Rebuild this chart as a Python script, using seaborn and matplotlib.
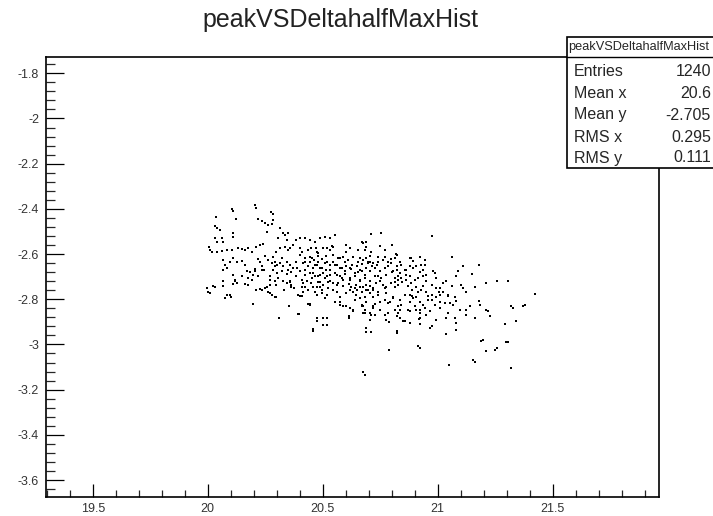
import matplotlib
matplotlib.use('Agg')
import matplotlib.pyplot as plt
from matplotlib.patches import Rectangle
from matplotlib.lines import Line2D
from matplotlib.ticker import MultipleLocator, FuncFormatter
import seaborn as sns
import pandas as pd

# puntos (peak, DeltahalfMax), agrupados por zona
upper_left = [
    (20.205, -2.383), (20.212, -2.396), (20.107, -2.400), (20.108, -2.409), (20.277, -2.415),
    (20.283, -2.424), (20.036, -2.434), (20.122, -2.444), (20.219, -2.444), (20.234, -2.453),
    (20.248, -2.463), (20.263, -2.471), (20.278, -2.468), (20.285, -2.449), (20.031, -2.478),
    (20.039, -2.485), (20.053, -2.493), (20.256, -2.503), (20.111, -2.508), (20.108, -2.523),
    (20.314, -2.486), (20.328, -2.508), (20.335, -2.515), (20.350, -2.508), (20.031, -2.530),
    (20.039, -2.545), (20.060, -2.530), (20.067, -2.545), (20.007, -2.567), (20.010, -2.581),
    (20.017, -2.592), (20.039, -2.589), (20.060, -2.586), (20.082, -2.581), (20.104, -2.581),
    (20.132, -2.574), (20.147, -2.577), (20.162, -2.581), (20.176, -2.574), (20.191, -2.589),
    (20.212, -2.567), (20.227, -2.559), (20.241, -2.556), (20.314, -2.574), (20.335, -2.567),
    (20.350, -2.581), (20.357, -2.571), (20.371, -2.559), (20.385, -2.537), (20.401, -2.530),
    (20.422, -2.528), (20.444, -2.537), (20.466, -2.545), (20.487, -2.530), (20.509, -2.523),
    (20.531, -2.530), (20.553, -2.515), (20.517, -2.574), (20.531, -2.581), (20.545, -2.567),
    (20.603, -2.559), (20.618, -2.574), (20.675, -2.552), (20.690, -2.567), (20.306, -2.530),
    (20.343, -2.537), (20.408, -2.589), (20.437, -2.581), (20.451, -2.574),
]

lower_left = [
    (20.067, -2.626), (20.075, -2.648), (20.067, -2.670), (20.082, -2.663), (20.096, -2.633),
    (20.111, -2.619), (20.126, -2.633), (20.147, -2.630), (20.162, -2.648), (20.169, -2.677),
    (20.183, -2.680), (20.205, -2.674), (20.227, -2.633), (20.234, -2.670), (20.111, -2.692),
    (20.118, -2.714), (20.126, -2.729), (20.111, -2.733), (20.147, -2.699), (20.176, -2.706),
    (20.198, -2.692), (19.995, -2.751), (20.002, -2.766), (20.010, -2.773), (20.024, -2.740),
    (20.031, -2.744), (20.067, -2.721), (20.067, -2.740), (20.118, -2.721), (20.126, -2.726),
    (20.162, -2.732), (20.176, -2.735), (20.191, -2.714), (20.075, -2.795), (20.099, -2.780),
    (20.101, -2.788), (20.198, -2.821), (20.212, -2.758), (20.227, -2.755), (20.234, -2.758),
    (20.248, -2.751), (20.256, -2.744), (20.263, -2.766), (20.270, -2.773), (20.280, -2.780),
    (20.292, -2.788), (20.299, -2.788), (20.270, -2.736), (20.357, -2.721), (20.364, -2.736),
    (20.353, -2.832), (20.309, -2.883), (20.393, -2.780), (20.408, -2.785), (20.391, -2.867),
    (20.396, -2.867), (20.415, -2.766), (20.422, -2.744), (20.415, -2.729), (20.437, -2.821),
    (20.444, -2.821), (20.458, -2.935), (20.082, -2.780), (20.285, -2.611), (20.292, -2.655),
    (20.343, -2.729), (20.299, -2.736), (20.364, -2.744), (20.270, -2.714), (20.219, -2.621),
    (20.236, -2.652), (20.248, -2.607), (20.205, -2.665),
]

core_left = [
    (20.278, -2.640), (20.292, -2.633), (20.302, -2.648), (20.314, -2.638), (20.328, -2.652),
    (20.345, -2.633), (20.357, -2.648), (20.371, -2.660), (20.285, -2.670), (20.302, -2.684),
    (20.321, -2.677), (20.343, -2.689), (20.364, -2.680), (20.383, -2.699), (20.306, -2.706),
    (20.328, -2.718), (20.357, -2.724), (20.270, -2.696), (20.292, -2.721), (20.401, -2.604),
    (20.422, -2.618), (20.444, -2.611), (20.461, -2.626), (20.480, -2.607), (20.499, -2.621),
    (20.517, -2.633), (20.415, -2.640), (20.437, -2.651), (20.456, -2.662), (20.476, -2.648),
    (20.495, -2.660), (20.513, -2.670), (20.531, -2.648), (20.401, -2.674), (20.422, -2.692),
    (20.444, -2.684), (20.466, -2.699), (20.487, -2.692), (20.509, -2.706), (20.531, -2.692),
    (20.430, -2.718), (20.451, -2.729), (20.480, -2.724), (20.502, -2.736), (20.408, -2.744),
    (20.437, -2.758), (20.466, -2.766), (20.495, -2.758), (20.524, -2.751), (20.444, -2.633),
    (20.466, -2.648), (20.487, -2.662), (20.509, -2.640), (20.458, -2.684), (20.480, -2.699),
    (20.502, -2.684), (20.531, -2.670), (20.458, -2.744), (20.473, -2.744), (20.487, -2.744),
    (20.531, -2.721), (20.473, -2.780), (20.495, -2.773), (20.517, -2.780), (20.502, -2.574),
    (20.473, -2.593), (20.480, -2.596),
]

core_mid = [
    (20.545, -2.604), (20.567, -2.618), (20.589, -2.611), (20.610, -2.626), (20.632, -2.615),
    (20.654, -2.633), (20.697, -2.640), (20.560, -2.648), (20.582, -2.660), (20.603, -2.651),
    (20.625, -2.665), (20.647, -2.655), (20.669, -2.674), (20.690, -2.662), (20.553, -2.684),
    (20.574, -2.699), (20.596, -2.689), (20.618, -2.706), (20.640, -2.695), (20.661, -2.714),
    (20.683, -2.704), (20.705, -2.718), (20.567, -2.729), (20.589, -2.740), (20.615, -2.733),
    (20.640, -2.751), (20.664, -2.744), (20.687, -2.758), (20.560, -2.766), (20.603, -2.773),
    (20.683, -2.788), (20.553, -2.648), (20.574, -2.662), (20.560, -2.692), (20.582, -2.706),
    (20.596, -2.677), (20.618, -2.662), (20.640, -2.684), (20.661, -2.670), (20.683, -2.692),
    (20.705, -2.677), (20.727, -2.662), (20.748, -2.677), (20.770, -2.662), (20.777, -2.692),
    (20.755, -2.706), (20.625, -2.744), (20.647, -2.758), (20.675, -2.744), (20.697, -2.758),
    (20.719, -2.751), (20.545, -2.729), (20.560, -2.736), (20.618, -2.714), (20.646, -2.736),
    (20.661, -2.721), (20.574, -2.788), (20.632, -2.766), (20.646, -2.780), (20.661, -2.795),
    (20.669, -2.545), (20.683, -2.581), (20.712, -2.593), (20.661, -2.618), (20.676, -2.626),
    (20.690, -2.618), (20.705, -2.633), (20.697, -2.633), (20.719, -2.640), (20.734, -2.648),
    (20.712, -2.512), (20.755, -2.505), (20.690, -2.545),
]

core_right = [
    (20.748, -2.566), (20.800, -2.562), (20.821, -2.604), (20.813, -2.618), (20.878, -2.618),
    (20.922, -2.611), (20.944, -2.626), (20.741, -2.615), (20.762, -2.626), (20.770, -2.611),
    (20.784, -2.633), (20.799, -2.622), (20.893, -2.662), (20.907, -2.655), (20.929, -2.648),
    (20.936, -2.670), (20.727, -2.699), (20.741, -2.699), (20.806, -2.677), (20.821, -2.670),
    (20.835, -2.684), (20.842, -2.706), (20.828, -2.714), (20.813, -2.706), (20.864, -2.692),
    (20.878, -2.699), (20.914, -2.706), (20.936, -2.699), (20.951, -2.692), (20.733, -2.729),
    (20.748, -2.721), (20.762, -2.736), (20.777, -2.744), (20.799, -2.729), (20.813, -2.744),
    (20.828, -2.736), (20.705, -2.773), (20.719, -2.788), (20.741, -2.780), (20.792, -2.810),
    (20.806, -2.795), (20.835, -2.802), (20.878, -2.780), (20.893, -2.795), (20.907, -2.788),
    (20.922, -2.810), (20.936, -2.824), (20.958, -2.802), (20.632, -2.846), (20.675, -2.832),
    (20.719, -2.839), (20.835, -2.846), (20.878, -2.853), (20.907, -2.846), (20.799, -2.640),
    (20.821, -2.655), (20.842, -2.648), (20.864, -2.670), (20.864, -2.714), (20.886, -2.729),
    (20.907, -2.744), (20.929, -2.758), (20.951, -2.766), (20.973, -2.780), (20.994, -2.788),
    (20.951, -2.721), (20.973, -2.736), (20.994, -2.751), (20.690, -2.736), (20.719, -2.758),
    (20.777, -2.773), (20.806, -2.788), (20.857, -2.780), (20.878, -2.810), (20.900, -2.832),
    (20.922, -2.846), (20.944, -2.839), (20.966, -2.854), (20.690, -2.810), (20.719, -2.832),
    (20.748, -2.846), (20.784, -2.861), (20.821, -2.876), (20.849, -2.895), (20.878, -2.905),
    (20.705, -2.861), (20.683, -2.846), (20.818, -2.600), (20.886, -2.618), (20.893, -2.630),
    (20.944, -2.648),
]

core_extra = [
    (20.422, -2.634), (20.453, -2.617), (20.388, -2.661), (20.409, -2.714), (20.479, -2.634),
    (20.513, -2.608), (20.544, -2.634), (20.574, -2.617), (20.522, -2.723), (20.596, -2.634),
    (20.626, -2.648), (20.653, -2.679), (20.670, -2.643), (20.713, -2.652), (20.739, -2.634),
    (20.783, -2.652), (20.800, -2.679), (20.826, -2.696), (20.844, -2.723), (20.870, -2.740),
    (20.887, -2.758), (20.913, -2.767), (20.935, -2.740), (20.957, -2.784), (20.900, -2.714),
    (20.857, -2.670), (20.813, -2.723), (20.770, -2.749), (20.739, -2.767), (20.705, -2.740),
    (20.670, -2.767), (20.618, -2.758), (20.587, -2.714), (20.544, -2.758), (20.518, -2.696),
    (20.487, -2.723), (20.453, -2.705), (20.422, -2.670), (20.383, -2.634), (20.348, -2.670),
    (20.322, -2.617), (20.296, -2.590), (20.261, -2.626), (20.244, -2.670), (20.218, -2.696),
    (20.331, -2.758), (20.374, -2.749), (20.401, -2.784), (20.509, -2.793), (20.574, -2.811),
    (20.639, -2.802), (20.670, -2.829), (20.726, -2.820), (20.770, -2.802), (20.826, -2.829),
    (20.887, -2.784), (20.974, -2.802), (21.009, -2.749), (21.043, -2.784), (21.061, -2.740),
    (20.653, -2.581), (20.705, -2.608), (20.770, -2.581), (20.835, -2.634), (20.878, -2.652),
    (20.922, -2.679), (20.540, -2.564), (20.600, -2.590), (20.470, -2.573), (20.401, -2.573),
]

lower_mid = [
    (20.553, -2.810), (20.574, -2.824), (20.589, -2.832), (20.603, -2.832), (20.618, -2.839),
    (20.632, -2.854), (20.669, -2.824), (20.683, -2.861), (20.712, -2.868), (20.727, -2.868),
    (20.705, -2.890), (20.748, -2.810), (20.784, -2.817), (20.813, -2.846), (20.828, -2.861),
    (20.842, -2.824), (20.871, -2.846), (20.936, -2.824), (20.770, -2.868), (20.777, -2.890),
    (20.788, -2.902), (20.835, -2.883), (20.857, -2.894), (20.922, -2.861), (20.922, -2.883),
    (20.473, -2.883), (20.476, -2.898), (20.502, -2.883), (20.517, -2.883), (20.502, -2.913),
    (20.517, -2.913), (20.458, -2.932), (20.458, -2.942), (20.615, -2.876), (20.615, -2.883),
    (20.824, -2.949), (20.444, -2.824), (20.675, -2.861), (20.690, -2.926),
]

right_tail = [
    (20.973, -2.519), (21.064, -2.615), (20.980, -2.674), (20.987, -2.684), (21.110, -2.655),
    (21.088, -2.674), (21.081, -2.695), (21.147, -2.689), (21.180, -2.648), (21.035, -2.718),
    (21.103, -2.736), (21.110, -2.751), (21.125, -2.770), (21.161, -2.744), (21.212, -2.729),
    (21.258, -2.718), (21.305, -2.718), (21.422, -2.777), (21.320, -2.832), (21.327, -2.839),
    (21.371, -2.832), (21.378, -2.824), (21.006, -2.766), (21.023, -2.766), (21.009, -2.780),
    (21.081, -2.807), (21.066, -2.824), (21.053, -2.817), (21.178, -2.807), (21.182, -2.824),
    (21.139, -2.832), (21.125, -2.846), (21.122, -2.868), (21.212, -2.846), (21.219, -2.854),
    (21.226, -2.876), (21.161, -2.883), (21.291, -2.909), (21.342, -2.895), (21.074, -2.883),
    (21.081, -2.905), (21.078, -2.935), (20.973, -2.919), (20.965, -2.926), (21.038, -2.955),
    (20.919, -2.886), (20.922, -2.910), (21.009, -2.839), (21.031, -2.817), (21.045, -2.861),
    (20.994, -2.706), (21.023, -2.729), (21.045, -2.780), (21.074, -2.788), (21.009, -2.810),
    (20.987, -2.824), (21.096, -2.846), (21.038, -2.883), (20.994, -2.890), (20.951, -2.868),
]

bottom_outliers = [
    (20.821, -2.942), (20.690, -2.945), (20.712, -2.945), (21.190, -2.986), (21.197, -2.979),
    (21.298, -2.990), (21.305, -2.990), (21.212, -3.027), (21.248, -3.023), (21.256, -3.015),
    (20.914, -3.008), (20.922, -3.015), (20.788, -3.026), (21.154, -3.067), (21.161, -3.077),
    (21.050, -3.092), (21.320, -3.104), (20.675, -3.123), (20.683, -3.133),
]

hist_name = 'peakVSDeltahalfMaxHist'
stats_labels = ['Entries', 'Mean x', 'Mean y', 'RMS x', 'RMS y']
stats_values = ['1240', '20.6', '-2.705', '0.295', '0.111']

x_ticks = [19.5, 20.0, 20.5, 21.0, 21.5]
y_ticks = [-3.6, -3.4, -3.2, -3.0, -2.8, -2.6, -2.4, -2.2, -2.0, -1.8]

points = (upper_left + lower_left + core_left + core_mid + core_right + core_extra
          + lower_mid + right_tail + bottom_outliers)
df = pd.DataFrame(points, columns=['peak', 'deltaHalfMax'])

sns.set_style('white')
plt.rcParams['font.family'] = ['Liberation Sans', 'DejaVu Sans']

W, H = 713, 516
fig = plt.figure(figsize=(W / 100, H / 100), dpi=100)
ax = fig.add_axes([46 / W, 1 - 497 / H, (659 - 46) / W, (497 - 57) / H])

sns.scatterplot(data=df, x='peak', y='deltaHalfMax', marker='s', s=3.2,
                color='black', linewidth=0, ax=ax, legend=False)

ax.set_xlim(19.297, 21.962)
ax.set_ylim(-3.675, -1.728)
ax.set_xlabel('')
ax.set_ylabel('')

fmt = FuncFormatter(lambda v, p: f'{v:g}')
ax.set_xticks(x_ticks)
ax.set_yticks(y_ticks)
ax.xaxis.set_major_formatter(fmt)
ax.yaxis.set_major_formatter(fmt)
ax.xaxis.set_minor_locator(MultipleLocator(0.1))
ax.yaxis.set_minor_locator(MultipleLocator(0.04))

ax.tick_params(axis='x', which='major', direction='in', length=9.5, width=0.9,
               labelsize=9, pad=4, colors='black', labelcolor='#333333',
               top=False, bottom=True)
ax.tick_params(axis='x', which='minor', direction='in', length=4.8, width=0.9,
               top=False, bottom=True)
ax.tick_params(axis='y', which='major', direction='in', length=13.2, width=0.9,
               labelsize=9, pad=5, colors='black', labelcolor='#333333',
               left=True, right=False)
ax.tick_params(axis='y', which='minor', direction='in', length=6.6, width=0.9,
               left=True, right=False)
for sp in ax.spines.values():
    sp.set_linewidth(1.2)
    sp.set_color('black')

# titulo
fig.text(340 / W, 1 - 20 / H, hist_name, ha='center', va='center', fontsize=18,
         color='#222222')

# caja de estadisticas (estilo ROOT)
bx0, by0, by1 = 567, 37, 168
box = Rectangle((bx0 / W, 1 - by1 / H), (W + 5 - bx0) / W, (by1 - by0) / H,
                transform=fig.transFigure, facecolor='white', edgecolor='black',
                linewidth=1.2, zorder=5)
fig.patches.append(box)
fig.lines.append(Line2D([bx0 / W, 1.0], [1 - 57 / H, 1 - 57 / H],
                        transform=fig.transFigure, color='black', linewidth=1.0, zorder=6))
fig.text((bx0 + 72) / W, 1 - 47 / H, hist_name, ha='center', va='center',
         fontsize=9.2, zorder=7)

row_y = [71.5, 93, 115, 137, 158]
for lab, val, yy in zip(stats_labels, stats_values, row_y):
    fig.text(574 / W, 1 - yy / H, lab, ha='left', va='center', fontsize=11.5, zorder=7)
    fig.text(711 / W, 1 - yy / H, val, ha='right', va='center', fontsize=11.5, zorder=7)

fig.savefig('out.png', dpi=100)
